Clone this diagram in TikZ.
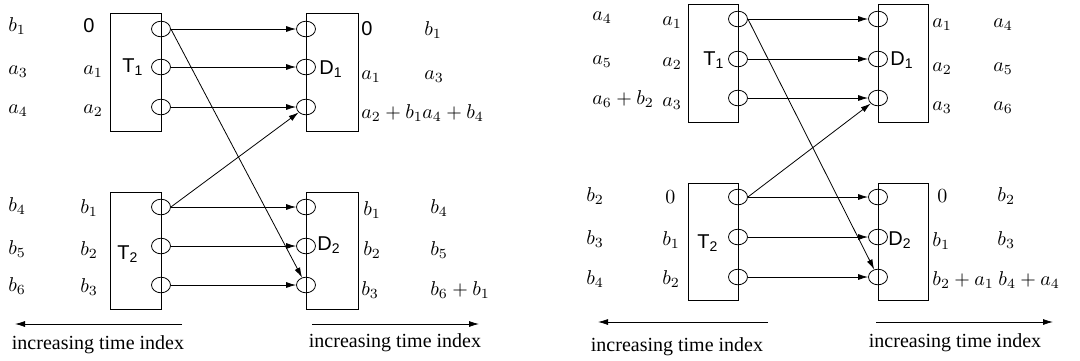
\documentclass[tikz,border=0pt]{standalone}
\usepackage{fontspec}
\setmainfont{Liberation Serif}
\newfontfamily\hvfont{Liberation Sans}
\usetikzlibrary{arrows.meta,shapes.geometric}

\tikzset{
  port/.style={draw,ellipse,inner sep=0pt,minimum width=9.5pt,minimum height=7.8pt},
  flow/.style={-{Latex[length=5pt,width=3pt]}},
  lbl/.style={anchor=base west,inner sep=0pt},
  tag/.style={anchor=base west,inner sep=0pt,font=\hvfont},
  note/.style={inner sep=0pt},
}

\begin{document}
\begin{tikzpicture}[x=0.5pt,y=-0.5pt]
  \useasboundingbox (0,0) rectangle (1080,360);
  % boxes
  \foreach \xa/\xb/\ya/\yb in {110/161/13/131,306/358/13/131,110/161/192/309,306/358/192/309,
                               688/738/4/122,878/928/4/122,688/738/183/300,878/928/183/300}
    \draw (\xa,\ya) rectangle (\xb,\yb);
  % ports
  \foreach \n/\x/\ya/\yb/\yc in {lt1/161/29/67/107,ld1/306/29/67/107,lt2/161/207/246/285,ld2/306/207/246/285,
                                 rt1/738/19/59/98,rd1/878/19/59/98,rt2/738/197/237/277,rd2/878/197/237/277}{
    \node[port] (\n-a) at (\x,\ya) {};
    \node[port] (\n-b) at (\x,\yb) {};
    \node[port] (\n-c) at (\x,\yc) {};
  }
  % box names
  \node[tag] (lT1) at (122,72) {T\textsubscript{1}};
  \node[tag] (lD1) at (319,74) {D\textsubscript{1}};
  \node[tag] (lT2) at (117,259) {T\textsubscript{2}};
  \node[tag] (lD2) at (317,250) {D\textsubscript{2}};
  \node[tag] (rT1) at (703,65) {T\textsubscript{1}};
  \node[tag] (rD1) at (890,65) {D\textsubscript{1}};
  \node[tag] (rT2) at (697,248) {T\textsubscript{2}};
  \node[tag] (rD2) at (888,245) {D\textsubscript{2}};
  % straight links
  \foreach \s/\t in {lt1/ld1,lt2/ld2,rt1/rd1,rt2/rd2}
    \foreach \k in {a,b,c}
      \draw[flow] (\s-\k) -- (\t-\k);
  % crossing links
  \draw[flow] (lt1-a.east) -- (ld2-c);
  \draw[flow] (lt2-a.east) -- (ld1-c);
  \draw[flow] (rt1-a.east) -- (rd2-c);
  \draw[flow] (rt2-a.east) -- (rd1-c);
  % sample labels
  \foreach \x/\y/\t [count=\i] in {
      8/31/$b_1$, 83/32/{\hvfont 0}, 8/74/$a_3$, 83/74/$a_1$, 8/113/$a_4$, 83/113/$a_2$,
      361/35/{\hvfont 0}, 424/35/$b_1$, 361/79/$a_1$, 424/79/$a_3$, 361/118/$a_2+b_1$, 422/118/$a_4+b_4$,
      8/211/$b_4$, 80/213/$b_1$, 8/254/$b_5$, 80/255/$b_2$, 8/291/$b_6$, 80/292/$b_3$,
      363/215/$b_1$, 430/213/$b_4$, 363/255/$b_2$, 430/255/$b_5$, 361/295/$b_3$, 430/295/$b_6+b_1$,
      592/20/$a_4$, 662/25/$a_1$, 592/64/$a_5$, 662/66/$a_2$, 592/104/$a_6+b_2$, 662/106/$a_3$,
      932/27/$a_1$, 993/27/$a_4$, 932/71/$a_2$, 993/71/$a_5$, 932/110/$a_3$, 993/110/$a_6$,
      586/201/$b_2$, 665/203/$0$, 586/244/$b_3$, 662/245/$b_1$, 586/284/$b_4$, 662/284/$b_2$,
      937/202/$0$, 997/201/$b_2$, 932/246/$b_1$, 997/245/$b_3$, 932/285/$b_2+a_1$, 998/285/$b_4+a_4$}
    \node[lbl] (lab\i) at (\x,\y) {\t};
  % time axes
  \coordinate (lax-s) at (182,324); \coordinate (lax-e) at (15,324);
  \coordinate (lbx-s) at (312,324); \coordinate (lbx-e) at (479,324);
  \coordinate (rax-s) at (768,322); \coordinate (rax-e) at (598,322);
  \coordinate (rbx-s) at (876,322); \coordinate (rbx-e) at (1053,322);
  \draw[flow] (lax-s) -- (lax-e);
  \draw[flow] (lbx-s) -- (lbx-e);
  \draw[flow] (rax-s) -- (rax-e);
  \draw[flow] (rbx-s) -- (rbx-e);
  \node[note] (lax-t) at (98,345) {increasing time index};
  \node[note] (lbx-t) at (395,343) {increasing time index};
  \node[note] (rax-t) at (677,347) {increasing time index};
  \node[note] (rbx-t) at (955,343) {increasing time index};
\end{tikzpicture}
\end{document}
